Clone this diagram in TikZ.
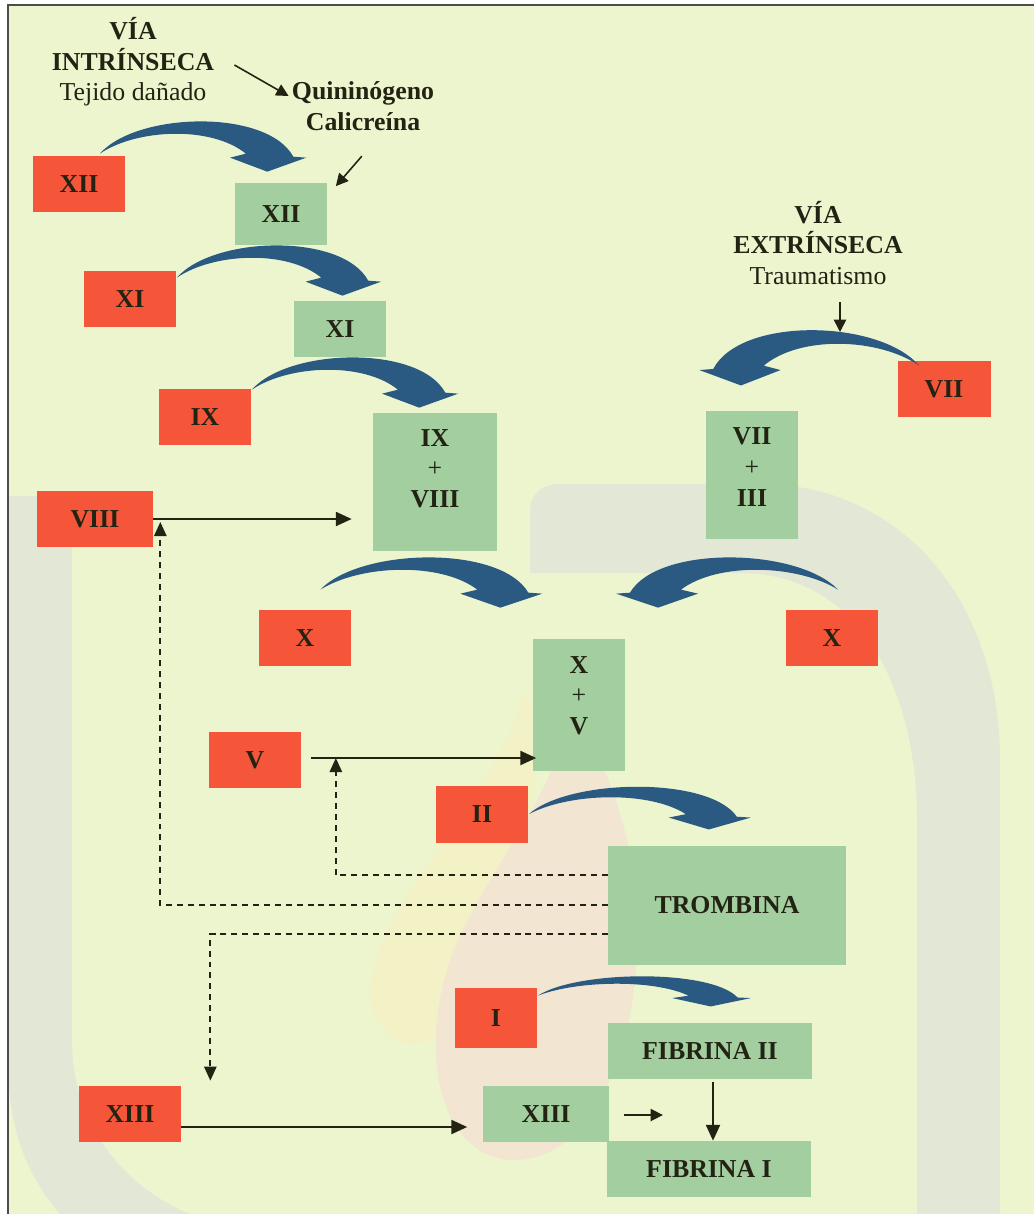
\documentclass[tikz,border=0pt]{standalone}
\usepackage{fontspec}
\setmainfont{Liberation Serif}
\usetikzlibrary{arrows.meta,calc}

\definecolor{paper}{RGB}{237,245,207}
\definecolor{factor}{RGB}{245,86,58}
\definecolor{complejo}{RGB}{163,207,160}
\definecolor{curva}{RGB}{42,90,130}
\definecolor{tinta}{RGB}{35,35,20}
\definecolor{marca}{RGB}{227,231,214}
\definecolor{llama}{RGB}{242,229,210}
\definecolor{sol}{RGB}{243,242,198}

\newcommand{\bajo}[1]{\rule[-#1]{0pt}{#1}}

\tikzset{
  base/.style={font=\fontsize{14.7}{17.4}\selectfont\bfseries, text=tinta, inner sep=0pt, align=center},
  inactivo/.style={base, fill=factor, minimum width=1.86cm, minimum height=1.12cm},
  activo/.style={base, fill=complejo, minimum width=1.86cm, minimum height=1.12cm},
  flecha/.style={draw=tinta, line width=1.1pt, -{Triangle[length=9pt,width=8pt]}},
  flechita/.style={draw=tinta, line width=0.9pt, -{Triangle[length=7pt,width=7pt]}},
  punteada/.style={draw=tinta, line width=1.1pt, dash pattern=on 3.4pt off 2.8pt, -{Triangle[length=8pt,width=7pt]}},
  bluearc/.pic={
    \fill[curva] (0,0) .. controls (40,-42) and (180,-45) .. (208,3)
      -- (222,4) -- (180,18) -- (140,4) -- (157,0)
      .. controls (120,-28) and (40,-25) .. (0,0) -- cycle;
  }
}

\begin{document}
\begin{tikzpicture}[x=0.02cm, y=-0.02cm]
  \useasboundingbox (0,0) rectangle (1034,1214);
  \fill[white] (0,0) rectangle (1034,1214);
  \fill[paper] (8,5) rectangle (1034,1214);

  % marca de agua
  \fill[marca] (8,496) -- (72,496) -- (72,1040) .. controls (72,1130) and (130,1190) .. (190,1214)
    -- (60,1214) .. controls (22,1170) and (8,1120) .. (8,1060) -- cycle;
  \fill[marca] (530,573) -- (530,512) .. controls (530,494) and (542,484) .. (560,484) -- (760,484)
    .. controls (900,484) and (1000,600) .. (1000,760) -- (1000,1214) -- (917,1214) -- (917,820)
    .. controls (917,690) and (860,573) .. (740,573) -- cycle;
  \fill[sol] (525,690) .. controls (555,760) and (520,900) .. (475,990)
    .. controls (445,1050) and (385,1070) .. (370,1000) .. controls (365,910) and (490,810) .. (525,690) -- cycle;
  \fill[llama] (575,700) .. controls (600,760) and (650,850) .. (635,980)
    .. controls (625,1080) and (580,1160) .. (515,1160) .. controls (450,1160) and (425,1080) .. (440,1000)
    .. controls (455,900) and (550,820) .. (575,700) -- cycle;
  \draw[line width=1.2pt, black!70] (8,1214) -- (8,5) -- (1034,5);

  % textos
  \node[base] (intr) at (133,62) {VÍA\\INTRÍNSECA\\{\mdseries Tejido dañado}};
  \node[base] (quin) at (363,106) {Quininógeno\\Calicreína};
  \node[base] (extr) at (818,243) {VÍA\\EXTRÍNSECA\\{\mdseries Traumatismo}};

  % factores
  \node[inactivo] (r12) at (79,184) {XII};
  \node[activo, minimum height=1.26cm] (g12) at (281,214) {XII};
  \node[inactivo] (r11) at (130,299) {XI};
  \node[activo] (g11) at (340,329) {XI};
  \node[inactivo] (r9) at (205,417) {IX};
  \node[activo, minimum width=2.48cm, minimum height=2.76cm] (g98) at (435,482) {IX\\{\mdseries +}\\VIII\bajo{0.54cm}};
  \node[inactivo, minimum width=2.32cm] (r8) at (95,519) {VIII};
  \node[inactivo] (r7) at (944,389) {VII};
  \node[activo, minimum width=1.84cm, minimum height=2.56cm] (g73) at (752,475) {VII\\{\mdseries +}\\III\bajo{0.32cm}};
  \node[inactivo, minimum width=1.84cm] (r10a) at (305,638) {X};
  \node[inactivo, minimum width=1.84cm] (r10b) at (832,638) {X};
  \node[activo, minimum height=2.66cm] (g105) at (579,705) {X\\{\mdseries +}\\V\bajo{0.38cm}};
  \node[inactivo] (r5) at (255,760) {V};
  \node[inactivo, minimum height=1.14cm] (r2) at (482,814) {II};
  \node[activo, minimum width=4.76cm, minimum height=2.38cm] (gT) at (727,905) {TROMBINA};
  \node[inactivo, minimum width=1.66cm, minimum height=1.2cm] (r1) at (496,1018) {I};
  \node[activo, minimum width=4.1cm] (gF2) at (710,1051) {FIBRINA II};
  \node[inactivo, minimum width=2.04cm] (r13) at (130,1114) {XIII};
  \node[activo, minimum width=2.54cm] (g13) at (546,1114) {XIII};
  \node[activo, minimum width=4.1cm] (gF1) at (709,1169) {FIBRINA I};

  % flechas curvas
  \pic[xscale=0.93] at ($(r12.north east)+(-26,-2)$) {bluearc};
  \pic[xscale=0.92] at ($(r11.north east)+(0,7)$) {bluearc};
  \pic[xscale=0.93] at ($(r9.north east)+(0,1)$) {bluearc};
  \pic at ($(r10a.north east)+(-31,-20)$) {bluearc};
  \pic[xscale=-1] at ($(r10b.north)+(6,-20)$) {bluearc};
  \pic[xscale=-0.99, yscale=1.1] at ($(r7.north west)+(22,5)$) {bluearc};
  \pic[yscale=0.85] at ($(r2.north east)+(0,29)$) {bluearc};
  \pic[xscale=0.96, yscale=0.6] at ($(r1.north east)+(0,8)$) {bluearc};

  % flechas rectas
  \draw[flechita] ($(intr.east)+(20,3)$) -- ($(quin.west)+(-3,-10)$);
  \draw[flechita] ($(g12.north east)+(34,-26)$) -- ($(g12.north east)+(8,4)$);
  \draw[flechita] ($(extr.center)+(22,59)$) -- ++(0,30);
  \draw[flecha] (r8.east) -- ($(r8.east -| g98.west)+(-21,0)$);
  \draw[flecha] ($(r5.east)+(9,-2)$) -- ($(r5.east -| g105.west)+(4,-2)$);
  \draw[flecha] ($(r13.east)+(0,13)$) -- ($(g13.west)+(-15,13)$);
  \draw[flechita] ($(g13.east)+(14,1)$) -- ++(39,0);
  \draw[flecha] ($(gF2.south)+(3,3)$) -- ($(gF1.north)+(4,0)$);

  % retroalimentacion de la trombina
  \coordinate (p8) at ($(r8.east)+(7,3)$);
  \coordinate (p5) at ($(r5.east)+(34,-2)$);
  \coordinate (p13) at ($(r13.north east)+(29,-5)$);
  \draw[punteada] ([yshift=0.6cm]gT.west) -| (p5);
  \draw[punteada] (gT.west) -| (p8);
  \draw[punteada] ([yshift=-0.58cm]gT.west) -| (p13);
\end{tikzpicture}
\end{document}
